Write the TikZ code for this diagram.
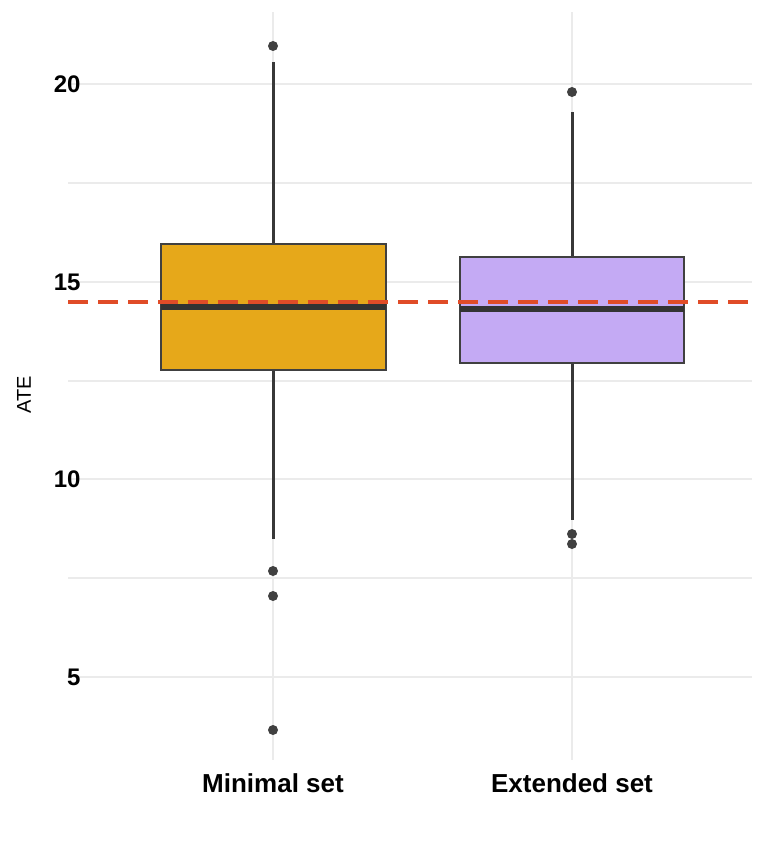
\documentclass[tikz,border=0pt]{standalone}
\usepackage{fontspec}
\setmainfont{Liberation Sans}
\begin{document}
\begin{tikzpicture}[x=1pt,y=-1pt,
  grid/.style={draw=black!8,line width=1.2pt},
  boxst/.style={draw=black!75,line width=2.6pt},
  wh/.style={draw=black!78,line width=3pt},
  med/.style={draw=black!80,line width=6pt},
  outl/.style={circle,fill=black!75,inner sep=0pt,minimum size=10pt},
  tick/.style={font=\fontsize{24}{28}\selectfont\bfseries,anchor=east},
  xlab/.style={font=\fontsize{26}{30}\selectfont\bfseries,anchor=north}]
\useasboundingbox (0,0) rectangle (764,853);
\foreach \y in {84,183,282,381,479,578,677} \draw[grid] (68,\y) -- (752,\y);
\foreach \x in {273,572} \draw[grid] (\x,12) -- (\x,760);
% box 1
\draw[wh] (273,62) -- (273,244);
\draw[wh] (273,370) -- (273,539);
\draw[boxst,fill={rgb,255:red,230;green,168;blue,26}] (161,244) rectangle (386,370);
\draw[med] (161,307) -- (386,307);
\foreach \y [count=\i] in {46,571,596,730} \node[outl] (o1\i) at (273,\y) {};
% box 2
\draw[wh] (572,112) -- (572,257);
\draw[wh] (572,363) -- (572,520);
\draw[boxst,fill={rgb,255:red,196;green,170;blue,244}] (460,257) rectangle (684,363);
\draw[med] (460,309) -- (684,309);
\foreach \y [count=\i] in {92,534,544} \node[outl] (o2\i) at (572,\y) {};
\draw[draw={rgb,255:red,224;green,76;blue,40},line width=3.5pt,dash pattern=on 20pt off 10pt] (68,302) -- (752,302);
\node[tick] (t20) at (84,84) {20};
\node[tick] (t15) at (84,282) {15};
\node[tick] (t10) at (84,479) {10};
\node[tick] (t5) at (84,677) {5};
\node[font=\fontsize{20}{24}\selectfont,rotate=90] (yl) at (24,395) {ATE};
\node[xlab] (x1) at (273,770) {Minimal set};
\node[xlab] (x2) at (572,770) {Extended set};
\end{tikzpicture}
\end{document}
